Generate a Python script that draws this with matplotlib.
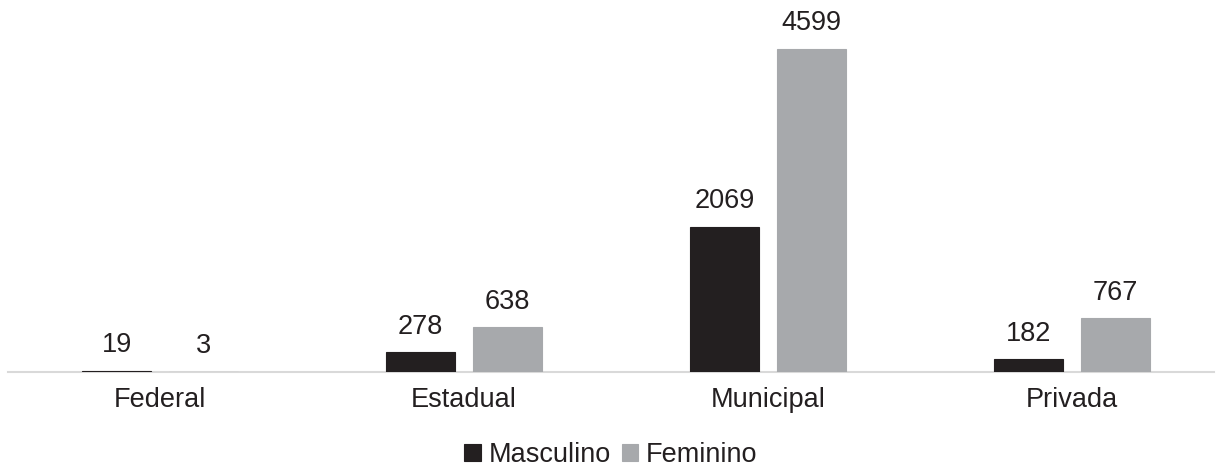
import numpy as np
import matplotlib.pyplot as plt

plt.rcParams['font.family'] = ['Liberation Sans', 'DejaVu Sans']

# dados
categorias = ["Federal", "Estadual", "Municipal", "Privada"]
masculino = [19, 278, 2069, 182]
feminino = [3, 638, 4599, 767]

cor_masc = '#231f20'
cor_fem = '#a7a9ac'

fig = plt.figure(figsize=(12.22, 4.68), dpi=100)
ax = fig.add_axes([8 / 1222, 1 - 372 / 468, 1206 / 1222, 362 / 468])

x = np.arange(len(categorias))
largura = 0.228
desloc = 0.143

b1 = ax.bar(x - desloc, masculino, largura, color=cor_masc, edgecolor=cor_masc,
            linewidth=0.8, label="Masculino", zorder=3)
b2 = ax.bar(x + desloc, feminino, largura, color=cor_fem, edgecolor=cor_fem,
            linewidth=0.8, label="Feminino", zorder=3)

for barras in (b1, b2):
    for r in barras:
        ax.annotate(f"{int(r.get_height())}",
                    (r.get_x() + r.get_width() / 2, r.get_height()),
                    xytext=(0, 9), textcoords='offset points',
                    ha='center', va='bottom', fontsize=19.5, color='#231f20')

ax.set_xlim(-0.5, 3 + 142 / 304)
ax.set_ylim(0, 5154)
ax.set_xticks(x)
ax.set_xticklabels(categorias, fontsize=19.5, color='#231f20')
ax.set_yticks([])
ax.tick_params(axis='x', length=0, pad=11)
for s in ['top', 'right', 'left']:
    ax.spines[s].set_visible(False)
ax.spines['bottom'].set_color('#d9d9d9')
ax.spines['bottom'].set_linewidth(1.5)

fig.legend(loc='center', bbox_to_anchor=(0.5, 1 - 455 / 468), ncol=2,
           frameon=False, fontsize=19.5, handlelength=0.6, handleheight=0.6,
           handletextpad=0.3, columnspacing=0.4, labelcolor='#231f20')

fig.savefig("out.png", dpi=100)
